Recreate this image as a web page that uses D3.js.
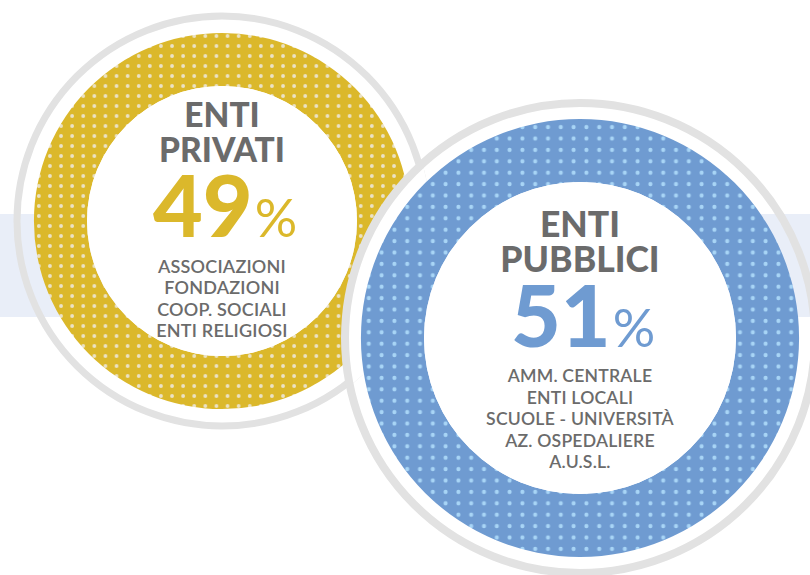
<!DOCTYPE html>
<html>
<head>
<meta charset="utf-8">
<script src="https://cdn.jsdelivr.net/npm/d3@7"></script>
<style>
  html, body { margin: 0; padding: 0; background: #fff; }
  svg { display: block; font-family: Lato, "Open Sans", sans-serif; }
</style>
</head>
<body>
<svg id="chart"></svg>
<script>
// data
const categories = ["ENTI PRIVATI", "ENTI PUBBLICI"];
const shares = [49, 51];
const members = [
  ["ASSOCIAZIONI", "FONDAZIONI", "COOP. SOCIALI", "ENTI RELIGIOSI"],
  ["AMM. CENTRALE", "ENTI LOCALI", "SCUOLE - UNIVERSITÀ", "AZ. OSPEDALIERE", "A.U.S.L."],
];
const colors = ["#dbb82b", "#6f9bd1"];
const dotColors = ["#ebe2c6", "#a8d5f6"];

const width = 810;
const height = 575;

// layout of each bubble
const layout = [
  { cx: 222, cy: 221, outer: 188, inner: 135, ring: 205, ringW: 7, dx: 11.1, dy: 10, dotR: 1.9,
    head: 33.5, headY: 127, headGap: 35, numSize: 86, pctSize: 53, numY: 237, subSize: 18, subY: 273, subGap: 21.3 },
  { cx: 580, cy: 338, outer: 219, inner: 156, ring: 235, ringW: 8, dx: 12.8, dy: 11.4, dotR: 2.1,
    head: 35.5, headY: 237, headGap: 35, numSize: 86, pctSize: 53, numY: 347, subSize: 17.6, subY: 382, subGap: 21.5 },
];

const svg = d3.select("#chart").attr("width", width).attr("height", height);
const defs = svg.append("defs");

layout.forEach((l, i) => {
  const p = defs.append("pattern")
    .attr("id", "dots" + i)
    .attr("patternUnits", "userSpaceOnUse")
    .attr("width", l.dx)
    .attr("height", l.dy);
  p.append("rect").attr("width", l.dx).attr("height", l.dy).attr("fill", colors[i]);
  p.append("circle").attr("cx", l.dx / 2).attr("cy", l.dy / 2).attr("r", l.dotR).attr("fill", dotColors[i]);
});

// the left bubble area, used to mask it under the right one
defs.append("clipPath").attr("id", "leftArea")
  .append("circle")
  .attr("cx", layout[0].cx).attr("cy", layout[0].cy).attr("r", layout[0].ring + layout[0].ringW / 2);

// background band
svg.append("rect")
  .attr("x", 0).attr("y", 214)
  .attr("width", width).attr("height", 103)
  .attr("fill", "#e9eef8");

const arc = d3.arc().startAngle(0).endAngle(2 * Math.PI);

const groups = svg.selectAll("g.bubble")
  .data(categories.map((c, i) => ({ name: c, share: shares[i], members: members[i], l: layout[i], i })))
  .enter()
  .append("g")
  .attr("class", "bubble");

groups.each(function (d) {
  const g = d3.select(this);
  const l = d.l;

  if (d.i > 0) {
    // white gap covering the left bubble where they overlap
    g.append("circle")
      .attr("cx", l.cx).attr("cy", l.cy).attr("r", l.ring)
      .attr("clip-path", "url(#leftArea)")
      .attr("fill", "#fff");
  }

  g.append("circle")
    .attr("cx", l.cx).attr("cy", l.cy).attr("r", l.ring)
    .attr("fill", "none")
    .attr("stroke", "#e2e2e2")
    .attr("stroke-width", l.ringW);

  g.append("path")
    .attr("transform", `translate(${l.cx},${l.cy})`)
    .attr("d", arc.innerRadius(l.inner).outerRadius(l.outer)())
    .attr("fill", `url(#dots${d.i})`);

  g.append("circle")
    .attr("cx", l.cx).attr("cy", l.cy).attr("r", l.inner)
    .attr("fill", "#fff");

  const words = d.name.split(" ");
  g.selectAll("text.head")
    .data(words)
    .enter()
    .append("text")
    .attr("class", "head")
    .attr("x", l.cx)
    .attr("y", (w, k) => l.headY + k * l.headGap)
    .attr("text-anchor", "middle")
    .attr("font-size", l.head)
    .attr("font-weight", 900)
    .attr("fill", "#6b6b6b")
    .text((w) => w);

  const num = g.append("text")
    .attr("x", l.cx + 3)
    .attr("y", l.numY)
    .attr("text-anchor", "middle")
    .attr("fill", colors[d.i]);
  num.append("tspan")
    .attr("font-size", l.numSize)
    .attr("font-weight", 900)
    .text(d.share);
  num.append("tspan")
    .attr("font-size", l.pctSize)
    .attr("font-weight", 400)
    .attr("dx", 2)
    .text("%");

  g.selectAll("text.sub")
    .data(d.members)
    .enter()
    .append("text")
    .attr("class", "sub")
    .attr("x", l.cx)
    .attr("y", (m, k) => l.subY + k * l.subGap)
    .attr("text-anchor", "middle")
    .attr("font-size", l.subSize)
    .attr("font-weight", 600)
    .attr("letter-spacing", 0.2)
    .attr("fill", "#6b6b6b")
    .text((m) => m);
});
</script>
</body>
</html>
